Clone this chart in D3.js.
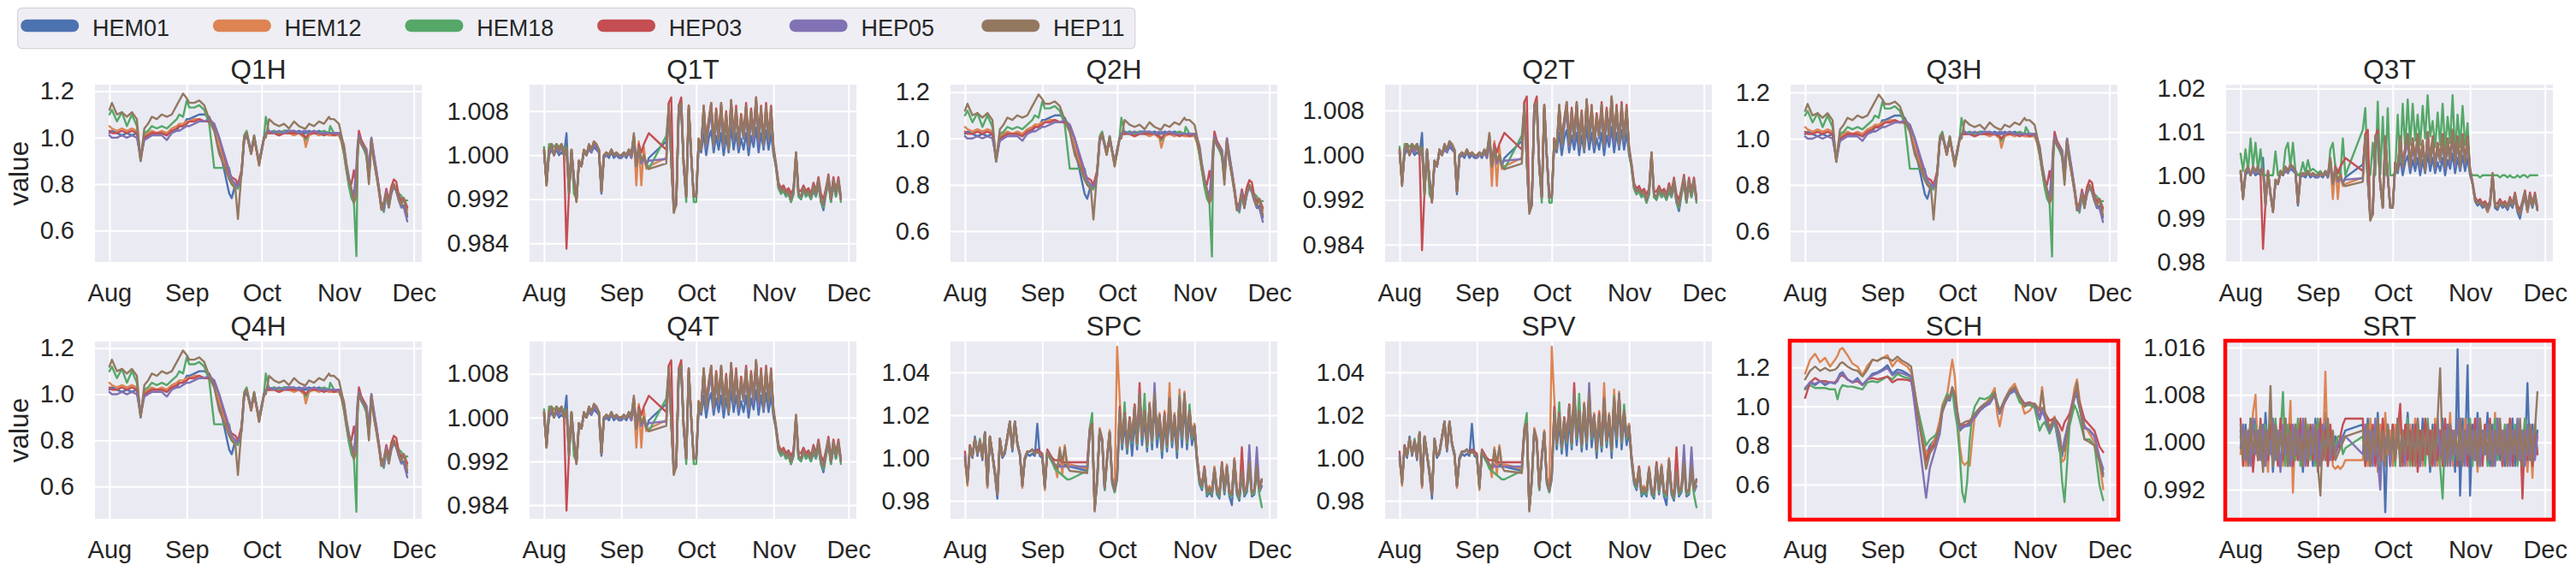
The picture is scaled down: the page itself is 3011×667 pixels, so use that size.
<!DOCTYPE html>
<html>
<head>
<meta charset="utf-8">
<script src="https://cdn.jsdelivr.net/npm/d3@7"></script>
<style>
  html, body { margin: 0; padding: 0; background: #ffffff; }
  svg { display: block; font-family: "Liberation Sans", Arial, sans-serif; }
</style>
</head>
<body>
<div id="chart"></div>
<script>
// Canvas size of the figure.
var W = 3011,
    H = 667;

// Series (sensor) names, in plotting order, and month ticks.
var seriesNames = ["HEM01", "HEM12", "HEM18", "HEP03", "HEP05", "HEP11"];
var monthTicks = ["2021-08-01", "2021-09-01", "2021-10-01", "2021-11-01", "2021-12-01"];
var monthLabels = ["Aug", "Sep", "Oct", "Nov", "Dec"];

// Y tick values for the different panel types.
var hTicks = [0.6, 0.8, 1.0, 1.2];
var tTicks = [0.984, 0.992, 1.000, 1.008];
var q3tTicks = [0.98, 0.99, 1.00, 1.01, 1.02];
var spTicks = [0.98, 1.00, 1.02, 1.04];
var srtTicks = [0.992, 1.000, 1.008, 1.016];

// Sample days, counted from Aug 1 (mid-September has no data).
var hDays = [0, 1, 3, 5, 7, 9, 11, 12.5, 14, 15.5,
    17, 19, 21, 23, 25, 27, 28, 29.5, 31, 32,
    34, 36, 38, 40, 42, 44, 46, 48, 49, 50.5,
    51.5, 53, 54, 55, 56.8, 58, 60, 61, 62, 62.7,
    64, 66, 68, 70, 72, 74, 76, 78, 78.7, 80,
    82, 84, 86, 88, 88.5, 90, 92, 93, 94, 95,
    96, 97, 98, 99, 99.5, 100, 101, 102, 103, 104,
    105, 106, 107, 108, 109, 110, 111, 112, 113, 114,
    115, 116, 117, 118, 119.4];
var fineDays = d3.range(0, 43).concat(d3.range(49, 120));
var schDays = [0, 2, 4, 6, 8, 10, 12, 13, 14, 15,
    17, 19, 21, 23, 25, 27, 29, 31, 33, 35,
    37, 39, 41, 42.5, 48.5, 50, 52, 54, 55, 57,
    58, 59, 60, 61, 62, 63, 64, 65, 66, 67,
    68, 70, 72, 74, 76, 77, 78, 80, 82, 84,
    86, 88, 90, 92, 94, 95, 96, 98, 100, 102,
    103, 104, 105, 106, 108, 109, 110, 112, 114, 116,
    118, 119.5];

// ---- Q*H panels (read from Q1H) ----
var hHEM01 = [1.02,1.03,1.02,1.01,1.02,1.01,1.02,0.90,1.00,1.01,
    1.02,1.02,1.02,1.01,1.03,1.03,1.05,1.05,1.08,1.08,
    1.09,1.10,1.10,1.09,1.04,0.96,0.86,0.76,0.74,0.80,
    0.79,0.85,0.99,1.01,0.94,1.00,0.89,0.94,1.00,1.02,
    1.02,1.03,1.02,1.03,1.03,1.02,1.03,1.02,1.02,1.03,
    1.02,1.03,1.02,1.02,1.02,1.02,1.02,0.99,0.94,0.87,
    0.80,0.76,0.74,0.76,0.94,1.00,0.97,0.95,0.93,0.83,
    0.98,0.91,0.84,0.77,0.70,0.70,0.76,0.70,0.76,0.79,
    0.77,0.73,0.70,0.71,0.66];
var hHEM12 = [1.05,1.04,1.03,1.04,1.03,1.04,1.03,0.91,1.01,1.02,
    1.03,1.02,1.03,1.02,1.04,1.05,1.06,1.06,1.07,1.07,
    1.08,1.08,1.07,1.07,1.03,0.97,0.90,0.83,0.81,0.80,
    0.79,0.86,1.00,1.02,0.93,1.00,0.88,0.94,1.00,1.02,
    1.02,1.02,1.01,1.02,1.02,1.01,1.02,1.00,0.96,1.01,
    1.02,1.01,1.02,1.01,1.01,1.01,1.01,0.98,0.93,0.86,
    0.80,0.77,0.73,0.77,0.95,1.01,0.98,0.96,0.93,0.83,
    0.99,0.90,0.84,0.77,0.69,0.71,0.77,0.72,0.78,0.80,
    0.78,0.74,0.72,0.73,0.69];
var hHEM18 = [1.10,1.12,1.07,1.11,1.05,1.10,1.05,0.91,1.02,1.03,
    1.05,1.04,1.05,1.04,1.06,1.08,1.10,1.09,1.16,1.13,
    1.13,1.14,1.12,1.06,0.87,0.87,0.87,0.87,0.80,0.79,
    0.78,0.86,1.01,1.03,0.94,1.01,0.89,0.94,1.01,1.09,
    1.02,1.03,1.02,1.03,1.02,1.03,1.02,1.01,0.99,1.02,
    1.03,1.02,1.03,1.02,1.05,1.02,1.02,0.99,0.93,0.86,
    0.79,0.74,0.72,0.49,0.92,1.01,0.98,0.95,0.92,0.82,
    0.99,0.91,0.85,0.78,0.70,0.68,0.75,0.71,0.77,0.80,
    0.77,0.76,0.75,0.73,0.73];
var hHEP03 = [1.03,1.02,1.02,1.03,1.02,1.03,1.02,0.91,1.00,1.01,
    1.02,1.02,1.02,1.01,1.03,1.04,1.05,1.05,1.06,1.07,
    1.07,1.08,1.07,1.07,1.06,1.00,0.92,0.85,0.83,0.82,
    0.80,0.86,1.00,1.02,0.93,1.00,0.89,0.95,1.00,1.02,
    1.02,1.02,1.01,1.02,1.02,1.02,1.02,1.01,1.00,1.02,
    1.02,1.02,1.01,1.02,1.02,1.01,1.02,1.00,0.95,0.88,
    0.82,0.80,0.86,0.78,0.96,1.03,0.99,0.97,0.95,0.84,
    1.00,0.92,0.86,0.79,0.71,0.72,0.78,0.73,0.79,0.82,
    0.81,0.75,0.73,0.74,0.70];
var hHEP05 = [1.01,1.00,1.00,1.01,1.00,1.01,1.00,0.92,0.99,1.00,
    1.01,1.01,1.01,0.99,1.02,1.03,1.03,1.04,1.05,1.05,
    1.06,1.07,1.07,1.08,1.06,1.00,0.93,0.86,0.82,0.80,
    0.79,0.84,0.99,1.01,0.95,1.00,0.90,0.95,1.00,1.02,
    1.03,1.02,1.03,1.02,1.03,1.03,1.02,1.03,1.03,1.02,
    1.03,1.02,1.02,1.02,1.02,1.02,1.02,1.00,0.97,0.89,
    0.83,0.78,0.75,0.88,0.97,1.01,0.98,0.96,0.95,0.86,
    1.00,0.93,0.86,0.78,0.70,0.69,0.77,0.71,0.76,0.79,
    0.77,0.74,0.70,0.70,0.64];
var hHEP11 = [1.12,1.15,1.10,1.11,1.09,1.11,1.08,0.90,1.04,1.06,
    1.09,1.08,1.10,1.09,1.10,1.14,1.16,1.19,1.17,1.15,
    1.15,1.16,1.14,1.08,1.03,0.93,0.88,0.82,0.80,0.78,
    0.65,0.86,1.00,1.02,0.93,1.01,0.88,0.95,1.00,1.00,
    1.08,1.06,1.05,1.06,1.04,1.07,1.05,1.04,1.04,1.06,
    1.05,1.07,1.06,1.09,1.08,1.08,1.06,1.01,0.96,0.88,
    0.82,0.78,0.72,0.75,0.95,1.00,0.97,0.96,0.93,0.80,
    0.99,0.90,0.84,0.78,0.69,0.72,0.76,0.70,0.77,0.80,
    0.77,0.73,0.71,0.74,0.67];

// ---- Q*T panels (read from Q1T) ----
var tHEM01 = [1.0005,0.995,1.000,1.001,1.000,1.001,1.000,1.0005,1.000,1.004,
    0.9935,1.0005,0.996,0.992,0.9985,0.998,1.0005,1.000,1.001,1.0005,
    1.0015,1.001,1.0005,0.993,0.9995,1.000,0.9995,1.0005,0.9995,1.000,
    0.9995,0.9995,1.000,0.9995,1.0005,0.9995,1.002,0.9975,1.000,0.9985,
    0.9995,0.998,0.9995,
    1.0025,1.008,0.999,0.990,0.9915,1.0075,1.008,0.998,0.993,1.0075,
    0.9995,0.993,0.9925,1.0015,1.0005,1.004,1.000,1.003,1.0045,1.0005,
    1.0035,1.001,1.004,1.000,1.0035,1.0005,1.005,1.001,1.004,1.0005,
    1.003,1.001,1.004,1.000,1.0035,1.0015,1.005,1.0005,1.004,1.001,
    1.0045,1.001,1.004,1.000,0.998,0.994,0.993,0.9935,0.9925,0.993,
    0.9915,0.993,0.9995,0.9925,0.992,0.9935,0.9925,0.993,0.992,0.9935,
    0.9925,0.9945,0.9915,0.990,0.993,0.995,0.9915,0.9945,0.9925,0.995,0.992];
var tHEM12 = [1.001,0.995,1.001,1.0015,1.000,1.0015,1.0005,1.0015,1.000,1.001,
    0.993,1.001,0.9955,0.992,0.999,0.998,1.001,1.000,1.0015,1.001,
    1.002,1.0015,1.001,0.9935,1.000,1.0005,1.000,1.001,1.000,1.0005,
    1.000,1.000,1.000,1.000,1.0005,0.9995,1.003,0.9945,1.0025,0.9945,
    1.0015,0.9975,0.998,
    0.9995,1.0095,0.999,0.990,0.991,1.009,1.0095,0.998,0.9925,1.009,
    1.000,0.9925,0.9925,1.003,1.0015,1.0085,1.0025,1.006,1.009,1.0025,
    1.008,1.003,1.009,1.0025,1.0075,1.0015,1.0095,1.0035,1.008,1.0025,
    1.007,1.0035,1.0085,1.0025,1.008,1.0035,1.010,1.003,1.008,1.0025,
    1.0085,1.003,1.008,1.001,0.998,0.9945,0.9935,0.994,0.993,0.9935,
    0.9915,0.9935,1.000,0.993,0.9925,0.994,0.993,0.9935,0.9925,0.9945,
    0.993,0.995,0.992,0.991,0.9935,0.9955,0.9915,0.995,0.993,0.995,0.992];
var tHEM18 = [1.0015,0.995,1.002,1.002,1.0015,1.002,1.0015,1.002,1.001,1.0015,
    0.993,1.001,0.993,0.992,0.999,0.998,1.001,1.000,1.0015,1.001,
    1.002,1.0015,1.001,0.9935,1.000,1.0005,1.000,1.001,1.000,1.0005,
    1.000,1.000,1.0005,1.000,1.001,1.0005,1.0035,0.998,1.0015,0.999,
    1.000,0.9985,0.9975,
    1.0035,1.0085,0.999,0.9905,0.9915,1.0085,1.009,0.998,0.9915,1.0085,
    1.000,0.9915,0.9915,1.0025,1.001,1.0085,1.0015,1.0055,1.009,1.0015,
    1.0075,1.0025,1.009,1.0015,1.007,1.001,1.0095,1.0025,1.008,1.0015,
    1.0065,1.003,1.0085,1.0015,1.0075,1.003,1.010,1.0025,1.008,1.0015,
    1.0085,1.0025,1.008,1.0005,0.9975,0.994,0.993,0.9935,0.9925,0.993,
    0.9915,0.993,1.000,0.9925,0.992,0.9935,0.9925,0.993,0.992,0.994,
    0.9925,0.995,0.9915,0.9905,0.993,0.9955,0.9915,0.995,0.9925,0.995,0.9915];
var tHEP03 = [1.001,0.9945,1.001,1.002,1.000,1.002,1.001,1.002,1.000,0.983,
    0.9935,1.001,0.9955,0.9915,0.999,0.998,1.001,1.000,1.002,1.001,
    1.0025,1.002,1.001,0.9935,1.000,1.0005,1.000,1.001,1.000,1.0005,
    1.000,1.000,1.0005,1.000,1.001,1.000,1.0035,0.9985,1.002,1.0005,
    1.002,1.003,1.004,
    1.001,1.0095,1.0105,0.990,0.991,1.009,1.0105,0.998,0.9925,1.009,
    1.000,0.9925,0.9925,1.003,1.0015,1.009,1.0025,1.0065,1.0095,1.0025,
    1.0085,1.0035,1.0095,1.0025,1.008,1.0015,1.010,1.0035,1.009,1.0025,
    1.0075,1.004,1.0095,1.0025,1.0085,1.004,1.0105,1.0035,1.009,1.0025,
    1.0095,1.0035,1.009,1.0015,0.9985,0.995,0.994,0.9945,0.9935,0.994,
    0.993,0.994,1.0005,0.9935,0.9935,0.9945,0.9935,0.994,0.993,0.995,
    0.9935,0.996,0.993,0.992,0.994,0.9965,0.9925,0.996,0.9935,0.996,0.9925];
var tHEP05 = [1.0005,0.995,1.0005,1.0015,1.000,1.0015,1.0005,1.0015,1.000,1.001,
    0.9935,1.0005,0.9955,0.992,0.9985,0.998,1.0005,1.000,1.0015,1.0005,
    1.002,1.0015,1.0005,0.9935,1.000,1.000,1.000,1.0005,1.000,1.000,
    1.000,0.9995,1.0005,1.000,1.0005,0.9995,1.0025,0.998,1.001,0.9985,
    0.9995,0.9985,0.999,
    0.9993,1.0085,0.999,0.9905,0.9915,1.0085,1.009,0.998,0.9925,1.0085,
    1.000,0.9925,0.9925,1.0025,1.001,1.007,1.0015,1.005,1.0075,1.0015,
    1.0065,1.0025,1.008,1.0015,1.0065,1.001,1.0085,1.0025,1.0075,1.0015,
    1.006,1.003,1.0075,1.0015,1.007,1.0025,1.009,1.002,1.0075,1.0015,
    1.008,1.0025,1.0075,1.001,0.998,0.9945,0.9935,0.994,0.993,0.9935,
    0.992,0.9935,1.000,0.993,0.9925,0.994,0.993,0.9935,0.9925,0.9945,
    0.993,0.9955,0.992,0.991,0.9935,0.996,0.992,0.9955,0.993,0.9955,0.992];
var tHEP11 = [1.001,0.9945,1.001,1.002,1.000,1.002,1.001,1.002,1.000,1.0015,
    0.993,1.001,0.9955,0.9915,0.999,0.998,1.001,1.000,1.002,1.001,
    1.0025,1.002,1.001,0.9935,1.000,1.0005,1.000,1.001,1.000,1.0005,
    1.000,1.000,1.0005,1.000,1.001,1.000,1.004,0.998,1.0015,0.999,
    1.000,0.998,0.9975,
    0.9985,1.009,0.999,0.9895,0.991,1.009,1.0095,0.998,0.9925,1.009,
    1.000,0.9925,0.9925,1.003,1.001,1.009,1.002,1.006,1.0095,1.002,
    1.008,1.003,1.0095,1.002,1.0075,1.001,1.010,1.003,1.0085,1.002,
    1.007,1.0035,1.009,1.002,1.008,1.0035,1.0105,1.003,1.0085,1.002,
    1.009,1.003,1.0085,1.001,0.998,0.9945,0.9935,0.994,0.993,0.9935,
    0.992,0.9935,1.0005,0.993,0.9925,0.994,0.993,0.9935,0.9925,0.9945,
    0.993,0.9955,0.992,0.991,0.9935,0.996,0.992,0.9955,0.993,0.9955,0.992];

// Q3T differs from the other T panels only in HEM18.
var q3tHEM18 = [1.005,1.001,1.006,1.001,1.0085,1.002,1.0075,1.001,1.006,1.000,
    1.000,1.000,1.000,1.000,1.0055,1.000,1.001,1.0005,1.006,1.0075,
    1.002,1.0075,1.001,1.000,1.0005,1.003,1.0005,1.0035,1.001,1.0015,
    1.001,1.0005,1.001,1.000,1.0005,0.9995,1.006,1.0075,1.002,1.001,
    1.000,1.0085,1.000,
    1.0105,1.0155,1.000,1.000,1.0075,1.000,1.017,1.000,1.0135,1.000,
    1.0155,1.000,1.000,1.0005,1.014,1.003,1.0165,1.006,1.0175,1.007,
    1.0165,1.008,1.014,1.007,1.016,1.0085,1.0185,1.009,1.0125,1.0065,
    1.0145,1.007,1.0165,1.006,1.0135,1.0075,1.0185,1.005,1.014,1.0065,
    1.016,1.007,1.012,1.0005,1.000,1.000,1.000,0.9995,1.000,1.000,
    1.000,1.000,1.000,1.000,1.000,0.9995,1.000,1.000,0.9995,1.000,
    0.9995,0.9995,1.000,0.9995,1.000,1.000,0.9995,1.000,1.000,1.000,1.000];

// ---- SPC / SPV panels (read from SPC) ----
var spHEM01 = [0.999,0.990,1.004,1.000,1.010,1.001,1.007,0.999,1.011,0.988,
    1.009,1.001,0.992,0.981,1.008,1.000,1.002,1.009,1.016,1.003,
    1.016,1.006,1.001,0.988,0.999,1.002,1.001,1.002,1.001,1.016,
    1.001,1.000,0.987,1.002,1.000,0.998,0.996,0.996,0.997,0.996,
    0.997,0.996,0.996,
    0.994,1.011,1.014,0.977,0.989,1.012,1.007,0.985,0.999,1.011,
    0.988,0.984,0.990,1.018,1.004,1.016,1.002,1.015,1.001,1.018,
    1.004,1.025,1.006,1.018,1.003,1.020,1.004,1.026,1.005,1.016,
    1.000,1.016,1.003,1.022,1.005,1.016,1.000,1.022,1.005,1.025,
    1.004,1.018,1.006,1.012,0.998,0.988,0.985,0.993,0.982,0.984,
    0.982,0.993,0.983,0.981,0.995,0.983,0.994,0.982,0.978,0.997,
    0.983,0.980,0.992,0.982,0.984,0.996,0.982,0.983,0.994,0.984,0.987];
var spHEM12 = [1.000,0.987,1.005,1.001,1.008,1.002,1.008,1.000,1.011,0.986,
    1.010,1.002,0.994,0.984,1.008,1.001,1.003,1.009,1.016,1.004,
    1.016,1.007,1.002,0.986,1.000,1.003,1.003,1.004,1.002,1.003,
    1.002,1.001,0.985,1.003,1.001,0.999,0.997,0.991,1.005,0.992,
    1.006,0.997,0.997,
    0.995,1.013,1.016,0.976,0.990,1.014,1.009,0.987,1.001,1.013,
    0.991,0.986,1.052,1.028,1.008,1.021,1.006,1.019,1.009,1.025,
    1.008,1.029,1.011,1.023,1.007,1.026,1.009,1.028,1.011,1.021,
    1.005,1.022,1.007,1.035,1.009,1.021,1.005,1.032,1.011,1.031,
    1.009,1.023,1.011,1.016,1.001,0.991,0.988,0.996,0.985,0.987,
    0.985,0.996,0.986,0.984,0.998,0.986,0.997,0.985,0.984,1.000,
    0.986,0.983,0.995,0.985,0.987,0.999,0.983,0.984,0.997,0.985,0.989];
var spHEM18 = [1.001,0.989,1.006,1.001,1.009,1.002,1.009,1.001,1.012,0.988,
    1.010,1.002,0.993,0.984,1.009,1.001,1.003,1.010,1.017,1.004,
    1.017,1.007,1.002,0.987,1.000,1.003,1.003,1.004,1.002,1.003,
    1.002,1.001,0.986,1.002,1.000,0.998,0.995,0.994,0.993,0.992,
    0.991,0.990,0.990,
    0.994,1.014,1.021,0.977,0.988,1.013,1.008,0.985,1.000,1.012,
    0.989,0.984,0.991,1.021,1.006,1.026,1.004,1.017,1.007,1.022,
    1.006,1.028,1.009,1.030,1.005,1.024,1.007,1.029,1.009,1.019,
    1.003,1.019,1.005,1.027,1.007,1.019,1.003,1.029,1.009,1.028,
    1.007,1.025,1.009,1.014,0.999,0.989,0.986,0.994,0.983,0.985,
    0.983,0.994,0.984,0.982,0.996,0.984,0.995,0.983,0.982,0.998,
    0.984,0.981,0.993,0.983,0.985,0.997,0.983,0.984,0.995,0.983,0.977];
var spHEP03 = [1.003,0.989,1.006,1.001,1.009,1.002,1.008,1.000,1.012,0.987,
    1.010,1.002,0.993,0.983,1.009,1.001,1.003,1.010,1.017,1.004,
    1.017,1.007,1.002,0.987,1.000,1.003,1.003,1.004,1.002,1.004,
    1.003,1.002,0.987,1.004,1.002,1.000,0.999,0.999,0.999,0.998,
    0.998,0.998,0.998,
    0.998,1.013,1.016,0.976,0.991,1.013,1.009,0.986,1.001,1.012,
    0.990,0.985,0.993,1.024,1.007,1.021,1.005,1.019,1.008,1.025,
    1.007,1.035,1.010,1.022,1.006,1.025,1.008,1.029,1.010,1.020,
    1.004,1.021,1.006,1.027,1.008,1.020,1.004,1.027,1.010,1.029,
    1.008,1.022,1.010,1.015,1.000,0.990,0.987,0.996,0.984,0.986,
    0.984,0.995,0.985,0.983,0.998,0.985,0.996,0.984,0.983,0.999,
    0.985,0.982,1.005,0.984,0.986,0.998,0.984,0.985,0.996,0.986,0.990];
var spHEP05 = [1.001,0.989,1.005,1.001,1.009,1.002,1.008,1.000,1.012,0.987,
    1.010,1.002,0.993,0.983,1.009,1.001,1.003,1.010,1.017,1.004,
    1.017,1.007,1.002,0.987,1.000,1.003,1.003,1.004,1.002,1.003,
    1.002,1.001,0.986,1.003,1.001,0.999,0.997,0.996,0.996,0.996,
    0.996,0.996,0.996,
    0.996,1.012,1.015,0.976,0.990,1.013,1.008,0.986,1.000,1.012,
    0.990,0.985,0.992,1.022,1.007,1.020,1.005,1.018,1.008,1.024,
    1.007,1.030,1.010,1.022,1.006,1.025,1.008,1.035,1.010,1.020,
    1.004,1.020,1.006,1.028,1.008,1.020,1.004,1.028,1.010,1.030,
    1.008,1.022,1.010,1.015,1.000,0.990,0.987,0.995,0.984,0.986,
    0.984,0.995,0.985,0.983,0.997,0.985,0.996,0.984,0.983,0.999,
    0.985,0.982,0.994,0.984,0.986,1.006,0.984,0.985,1.005,0.986,0.990];
var spHEP11 = [1.000,0.988,1.005,1.001,1.009,1.002,1.008,1.000,1.012,0.987,
    1.010,1.002,0.993,0.983,1.009,1.001,1.003,1.010,1.017,1.004,
    1.017,1.007,1.002,0.987,1.000,1.003,1.003,1.004,1.002,1.003,
    1.002,1.001,0.986,1.003,1.001,0.999,0.997,0.995,1.004,0.998,
    1.005,0.996,0.994,
    0.993,1.012,1.015,0.975,0.990,1.013,1.008,0.986,1.000,1.012,
    0.990,0.985,0.992,1.022,1.007,1.020,1.005,1.018,1.008,1.024,
    1.007,1.030,1.010,1.022,1.006,1.025,1.008,1.030,1.010,1.020,
    1.004,1.020,1.006,1.028,1.008,1.020,1.004,1.028,1.010,1.030,
    1.008,1.022,1.010,1.015,1.000,0.990,0.987,0.995,0.984,0.986,
    0.984,0.995,0.985,0.983,0.997,0.985,0.996,0.984,0.983,0.999,
    0.985,0.982,0.994,0.984,0.986,0.998,0.984,0.985,0.996,0.986,0.990];

// ---- SCH panel ----
var schHEM01 = [1.088,1.124,1.11,1.13,1.11,1.124,1.117,1.14,1.168,1.176,
    1.139,1.124,1.146,1.11,1.139,1.168,1.176,1.19,1.212,1.168,
    1.19,1.183,1.168,1.154,0.75,0.80,0.83,0.90,0.978,1.037,
    1.03,1.088,1.051,0.949,0.876,0.89,0.898,0.90,0.905,0.925,
    0.941,0.978,1.00,1.015,1.059,1.007,0.963,1.022,1.066,1.08,
    1.044,1.007,1.015,1.007,0.934,0.978,0.949,0.868,0.927,0.773,
    0.744,0.832,0.88,0.934,1.051,1.051,0.993,0.89,0.876,0.846,
    0.73,0.656];
var schHEM12 = [1.168,1.24,1.27,1.227,1.25,1.205,1.24,1.26,1.293,1.30,
    1.263,1.22,1.205,1.16,1.21,1.24,1.234,1.249,1.263,1.205,
    1.24,1.22,1.205,1.176,0.75,0.78,0.83,0.93,1.007,1.066,
    1.154,1.24,1.154,0.978,0.80,0.715,0.70,0.715,0.697,0.832,
    0.949,0.985,1.007,1.044,1.095,0.963,0.898,1.037,1.088,1.117,
    1.051,0.963,0.978,1.015,0.985,1.10,0.978,0.89,0.949,0.80,
    0.715,0.73,0.82,0.92,1.095,1.139,1.037,0.905,0.861,0.817,
    0.715,0.576];
var schHEM18 = [1.088,1.11,1.095,1.095,1.095,1.088,1.088,1.037,1.088,1.11,
    1.102,1.102,1.095,1.088,1.124,1.13,1.124,1.139,1.154,1.139,
    1.168,1.154,1.146,1.139,0.80,0.83,0.85,0.88,0.993,1.066,
    1.037,1.088,0.978,0.90,0.75,0.56,0.51,0.62,0.83,0.95,
    1.00,1.044,1.037,1.051,1.073,1.022,0.978,1.03,1.073,1.088,
    1.022,1.007,1.007,0.993,0.876,0.905,0.92,0.861,0.92,0.80,
    0.62,0.51,0.70,0.90,1.007,0.978,0.934,0.832,0.832,0.80,
    0.598,0.52];
var schHEP03 = [1.044,1.124,1.146,1.13,1.13,1.124,1.124,1.14,1.154,1.16,
    1.139,1.124,1.13,1.11,1.139,1.146,1.139,1.146,1.154,1.124,
    1.139,1.139,1.136,1.13,0.72,0.78,0.81,0.90,0.978,1.044,
    1.05,1.088,1.06,0.963,0.898,0.905,0.905,0.91,0.92,0.935,
    0.949,0.978,1.007,1.022,1.066,1.007,0.971,1.022,1.073,1.088,
    1.051,1.015,1.022,1.007,0.949,0.993,0.971,0.927,0.941,0.905,
    0.876,0.92,0.94,0.963,1.066,1.095,1.022,0.934,0.905,0.876,
    0.795,0.766];
var schHEP05 = [1.095,1.124,1.117,1.13,1.117,1.124,1.12,1.13,1.16,1.17,
    1.139,1.124,1.139,1.11,1.139,1.16,1.17,1.183,1.198,1.16,
    1.176,1.17,1.16,1.15,0.532,0.685,0.773,0.861,0.97,1.04,
    1.04,1.09,1.055,0.955,0.885,0.895,0.9,0.905,0.91,0.93,
    0.945,0.98,1.00,1.02,1.062,1.007,0.968,1.025,1.07,1.085,
    1.048,1.01,1.018,1.01,0.94,0.985,0.955,0.875,0.932,0.82,
    0.77,0.82,0.89,0.94,1.06,1.07,1.0,0.895,0.88,0.85,
    0.74,0.68];
var schHEP11 = [1.139,1.183,1.205,1.183,1.198,1.183,1.19,1.20,1.22,1.227,
    1.205,1.19,1.183,1.154,1.19,1.24,1.234,1.249,1.249,1.234,
    1.256,1.234,1.22,1.205,0.68,0.76,0.80,0.90,0.978,1.05,
    1.044,1.10,1.066,0.978,0.905,0.912,0.92,0.925,0.927,0.945,
    0.963,0.993,1.015,1.03,1.073,1.015,0.978,1.037,1.08,1.10,
    1.051,1.00,1.015,1.015,0.978,1.08,0.978,0.89,0.941,0.861,
    0.773,0.773,0.85,0.934,1.044,1.124,1.007,0.832,0.817,0.80,
    0.715,0.642];

// ---- SRT panel ----
var srtHEM01 = [1.002,0.998,1.003,0.997,1.001,0.996,1.004,0.999,1.003,0.997,
    1.005,0.998,1.002,0.995,1.003,0.999,1.001,0.997,1.004,0.996,
    1.002,0.998,1.003,0.997,1.001,0.995,1.003,0.998,1.002,0.996,
    1.004,0.997,1.002,0.999,1.005,0.996,1.002,0.998,1.001,1.000,
    0.999,1.001,1.002,
    1.003,0.997,1.004,0.996,1.002,0.998,1.005,0.995,1.003,0.9882,
    1.002,0.997,1.003,0.998,1.004,0.996,1.002,0.999,1.005,0.997,
    1.003,0.998,1.002,0.996,1.004,0.997,1.001,0.995,1.003,0.998,
    1.002,0.997,1.004,0.996,1.003,0.999,1.002,0.995,1.0157,0.991,
    1.004,0.998,1.013,0.991,1.003,0.997,1.005,0.996,1.002,0.998,
    1.005,0.996,1.003,0.998,1.004,0.997,1.002,0.996,1.003,0.999,
    1.004,0.996,1.003,0.997,1.002,0.998,1.010,0.997,1.003,0.998,1.002];
var srtHEM12 = [0.998,1.003,0.996,1.002,0.999,1.005,1.008,0.997,1.003,0.996,
    1.002,0.995,1.004,0.998,1.001,0.997,1.003,0.996,1.002,0.999,
    1.007,0.9915,1.003,0.997,1.002,0.996,1.004,0.998,1.001,0.997,
    1.003,0.996,1.002,0.998,1.0119,0.997,1.002,0.996,0.9955,0.996,
    0.9955,0.996,0.997,
    0.997,1.003,0.996,1.004,0.998,1.002,0.995,1.003,0.997,1.005,
    0.998,1.002,0.996,1.003,0.999,1.004,0.997,1.002,0.996,1.003,
    0.998,1.004,0.997,1.001,0.996,1.003,0.998,1.002,0.997,1.004,
    0.996,1.002,0.999,1.003,0.997,1.005,0.996,1.002,0.998,1.003,
    0.997,1.004,0.996,1.002,0.998,1.003,0.995,1.004,0.997,1.002,
    0.998,1.003,0.996,1.005,0.997,1.002,0.999,1.003,0.996,1.004,
    0.997,1.002,0.998,1.003,0.996,1.004,0.995,1.002,0.994,1.003,0.998];
var srtHEM18 = [1.001,0.997,1.002,0.998,1.004,0.996,1.003,0.999,1.002,0.997,
    1.003,0.998,1.002,0.996,1.004,0.997,1.001,1.0085,0.996,1.003,
    0.998,1.002,0.997,1.004,0.996,1.002,0.999,1.003,0.997,1.002,
    0.996,1.004,0.998,1.002,0.997,1.003,0.998,1.001,0.999,1.001,
    1.001,0.998,0.999,
    1.001,0.996,1.003,0.998,1.002,0.997,1.004,0.996,1.002,0.998,
    1.003,0.997,1.001,0.996,1.003,0.998,1.002,0.997,1.004,0.996,
    1.002,0.998,1.003,0.997,1.001,0.996,1.004,0.998,1.002,0.997,
    1.003,0.996,0.9905,1.002,0.998,1.003,0.997,1.001,0.996,1.003,
    0.998,1.002,0.997,1.004,0.996,1.003,0.998,1.002,0.997,1.003,
    0.996,1.002,0.998,1.004,0.997,1.002,0.996,1.003,0.998,1.002,
    0.997,1.003,0.996,1.002,0.998,1.004,0.997,1.002,0.996,1.003,0.998];
var srtHEP03 = [1.004,0.996,1.002,0.998,1.003,0.995,1.001,0.997,1.004,0.996,
    1.002,0.997,1.003,0.998,1.001,0.996,1.004,0.997,1.002,0.998,
    1.003,0.996,1.002,0.997,1.004,0.998,1.001,0.996,1.003,0.997,
    1.002,0.995,1.004,0.997,1.002,0.996,1.003,0.997,0.998,0.999,
    1.001,1.003,1.004,
    1.004,0.996,1.002,0.997,1.003,0.996,1.001,0.997,1.004,0.998,
    1.002,0.996,1.003,0.997,1.002,1.0065,0.996,1.003,0.997,1.002,
    0.996,1.003,0.995,1.002,0.997,1.004,0.998,1.002,0.996,1.003,
    0.997,1.002,0.996,1.004,0.997,1.003,0.998,1.002,0.996,1.004,
    0.997,1.002,0.996,1.003,0.998,1.004,0.997,1.002,0.996,1.003,
    0.997,1.004,0.996,1.002,0.998,1.003,0.996,1.002,0.997,1.004,
    0.996,1.002,0.997,1.003,0.9905,1.002,0.997,1.003,0.996,1.002,0.998];
var srtHEP05 = [0.999,1.003,0.997,1.002,0.996,1.004,0.998,1.002,0.997,1.003,
    0.996,1.002,0.998,1.004,0.997,1.002,0.995,1.003,0.998,1.001,
    0.996,1.003,0.998,1.002,0.997,1.004,0.996,1.002,0.998,1.003,
    0.997,1.002,0.996,1.003,0.998,1.002,0.997,1.001,0.998,1.000,
    1.000,1.001,1.001,
    0.998,1.003,0.997,1.002,0.996,1.004,0.997,0.992,1.002,0.998,
    1.003,0.996,1.002,0.998,1.004,0.997,1.002,0.996,1.003,0.998,
    1.002,0.997,1.004,0.996,1.002,0.998,1.003,0.997,1.002,0.996,
    1.004,0.998,1.002,0.997,1.003,0.996,1.002,0.998,1.004,0.997,
    1.002,0.996,1.003,0.998,1.002,0.997,1.004,0.996,1.002,0.998,
    1.003,0.997,1.002,0.996,1.004,0.998,1.002,0.997,1.003,0.996,
    1.002,0.998,1.004,0.997,1.002,0.996,1.003,0.998,1.002,0.997,1.001];
var srtHEP11 = [1.003,0.997,1.002,0.996,1.004,0.998,1.002,0.997,1.003,0.995,
    1.002,0.998,1.0095,0.996,1.003,0.997,1.002,0.998,1.004,0.996,
    1.002,0.997,1.003,0.998,1.001,0.996,1.004,0.997,1.002,0.998,
    1.003,0.996,0.991,1.002,0.997,1.004,0.998,1.002,0.997,0.998,
    0.999,1.000,1.001,
    1.002,0.997,1.003,0.996,1.002,0.998,1.004,0.997,1.002,0.996,
    1.003,0.998,1.002,0.997,1.004,0.996,1.002,0.998,1.003,0.997,
    1.002,0.996,1.004,0.997,1.002,0.998,1.003,0.996,1.002,0.997,
    1.004,1.0125,0.997,1.002,0.996,1.003,0.998,1.002,0.997,1.004,
    0.996,1.002,0.998,1.003,0.997,1.002,0.996,1.004,0.998,1.002,
    0.997,1.003,0.996,1.002,0.998,1.004,0.997,1.002,0.996,1.003,
    0.998,1.002,0.997,1.004,0.996,1.002,0.998,1.003,0.997,1.002,1.0085];

// Groups of series per panel type, in the order HEM01 .. HEP11.
var hSeries = [hHEM01, hHEM12, hHEM18, hHEP03, hHEP05, hHEP11],
    tSeries = [tHEM01, tHEM12, tHEM18, tHEP03, tHEP05, tHEP11],
    q3tSeries = [tHEM01, tHEM12, q3tHEM18, tHEP03, tHEP05, tHEP11],
    spSeries = [spHEM01, spHEM12, spHEM18, spHEP03, spHEP05, spHEP11],
    schSeries = [schHEM01, schHEM12, schHEM18, schHEP03, schHEP05, schHEP11],
    srtSeries = [srtHEM01, srtHEM12, srtHEM18, srtHEP03, srtHEP05, srtHEP11];

// Seaborn "deep" palette.
var colors = ["#4C72B0", "#DD8452", "#55A868", "#C44E52", "#8172B3", "#937860"];

// Panel grid (pixel layout of the axes areas).
var colLeft = [111, 619, 1111, 1619, 2093, 2602],
    rowTop = [99, 399],
    plotW = 382,
    plotH = 207,
    xDomainDays = [-5.8, 125.2];

var panels = [
    {title: "Q1H", row: 0, col: 0, days: hDays, series: hSeries, yDomain: [0.465, 1.228], ticks: hTicks, fmt: ".1f"},
    {title: "Q1T", row: 0, col: 1, days: fineDays, series: tSeries, yDomain: [0.9806, 1.0128], ticks: tTicks, fmt: ".3f"},
    {title: "Q2H", row: 0, col: 2, days: hDays, series: hSeries, yDomain: [0.467, 1.232], ticks: hTicks, fmt: ".1f"},
    {title: "Q2T", row: 0, col: 3, days: fineDays, series: tSeries, yDomain: [0.9809, 1.0126], ticks: tTicks, fmt: ".3f"},
    {title: "Q3H", row: 0, col: 4, days: hDays, series: hSeries, yDomain: [0.467, 1.233], ticks: hTicks, fmt: ".1f"},
    {title: "Q3T", row: 0, col: 5, days: fineDays, series: q3tSeries, yDomain: [0.98, 1.0209], ticks: q3tTicks, fmt: ".2f"},
    {title: "Q4H", row: 1, col: 0, days: hDays, series: hSeries, yDomain: [0.46, 1.2286], ticks: hTicks, fmt: ".1f"},
    {title: "Q4T", row: 1, col: 1, days: fineDays, series: tSeries, yDomain: [0.9815, 1.0139], ticks: tTicks, fmt: ".3f"},
    {title: "SPC", row: 1, col: 2, days: fineDays, series: spSeries, yDomain: [0.9716, 1.0544], ticks: spTicks, fmt: ".2f"},
    {title: "SPV", row: 1, col: 3, days: fineDays, series: spSeries, yDomain: [0.9716, 1.0544], ticks: spTicks, fmt: ".2f"},
    {title: "SCH", row: 1, col: 4, days: schDays, series: schSeries, yDomain: [0.4245, 1.333], ticks: hTicks, fmt: ".1f", box: true},
    {title: "SRT", row: 1, col: 5, days: fineDays, series: srtSeries, yDomain: [0.9871, 1.0170], ticks: srtTicks, fmt: ".3f", box: true}
];

var startMs = Date.UTC(2021, 7, 1);
function dayToDate(d) { return new Date(startMs + d * 864e5); }
var monthDates = monthTicks.map(function (s) { return new Date(s + "T00:00:00Z"); });

var svg = d3.select("#chart")
    .append("svg")
    .attr("width", W)
    .attr("height", H);

svg.append("rect").attr("width", W).attr("height", H).attr("fill", "#ffffff");

panels.forEach(function (p) {
    var x0 = colLeft[p.col],
        y0 = rowTop[p.row];

    var x = d3.scaleUtc()
        .domain([dayToDate(xDomainDays[0]), dayToDate(xDomainDays[1])])
        .range([x0, x0 + plotW]);
    var y = d3.scaleLinear()
        .domain(p.yDomain)
        .range([y0 + plotH, y0]);

    var g = svg.append("g").attr("class", "panel");

    // Axes background.
    g.append("rect")
        .attr("x", x0).attr("y", y0)
        .attr("width", plotW).attr("height", plotH)
        .attr("fill", "#EAEAF2");

    // White grid lines, drawn with axes.
    var gx = g.append("g")
        .attr("transform", "translate(0," + (y0 + plotH) + ")")
        .call(d3.axisBottom(x).tickValues(monthDates).tickSize(-plotH).tickFormat(""));
    var gy = g.append("g")
        .attr("transform", "translate(" + x0 + ",0)")
        .call(d3.axisLeft(y).tickValues(p.ticks).tickSize(-plotW).tickFormat(""));
    [gx, gy].forEach(function (a) {
        a.select(".domain").remove();
        a.selectAll("line").attr("stroke", "#ffffff").attr("stroke-width", 2);
    });

    // Series lines.
    var line = d3.line()
        .x(function (d) { return x(d.t); })
        .y(function (d) { return y(d.v); });

    p.series.forEach(function (vals, i) {
        if (vals.length !== p.days.length) console.warn(p.title, seriesNames[i], vals.length, p.days.length);
        var pts = p.days.map(function (d, j) { return {t: dayToDate(d), v: vals[j]}; })
            .filter(function (d) { return d.v != null && !isNaN(d.v); });
        g.append("path")
            .datum(pts)
            .attr("d", line)
            .attr("fill", "none")
            .attr("stroke", colors[i])
            .attr("stroke-width", 2.4)
            .attr("stroke-linejoin", "round")
            .attr("stroke-linecap", "round");
    });

    // Tick labels.
    var lx = g.append("g")
        .attr("transform", "translate(0," + (y0 + plotH) + ")")
        .call(d3.axisBottom(x).tickValues(monthDates).tickSize(0).tickPadding(25)
            .tickFormat(function (d, i) { return monthLabels[i]; }));
    var ly = g.append("g")
        .attr("transform", "translate(" + x0 + ",0)")
        .call(d3.axisLeft(y).tickValues(p.ticks).tickSize(0).tickPadding(24)
            .tickFormat(d3.format(p.fmt)));
    [lx, ly].forEach(function (a) {
        a.select(".domain").remove();
        a.attr("font-family", null).attr("font-size", null);
        a.selectAll("text")
            .attr("fill", "#262626")
            .style("font-size", "29px")
            .style("font-family", "'Liberation Sans', Arial, sans-serif");
    });

    // Title.
    g.append("text")
        .attr("x", x0 + plotW / 2)
        .attr("y", y0 - 7.5)
        .attr("text-anchor", "middle")
        .attr("fill", "#262626")
        .style("font-size", "31.5px")
        .text(p.title);

    // Y label on the first column.
    if (p.col === 0) {
        var cy = y0 + plotH / 2;
        g.append("text")
            .attr("transform", "translate(33," + cy + ") rotate(-90)")
            .attr("text-anchor", "middle")
            .attr("fill", "#262626")
            .style("font-size", "31.5px")
            .text("value");
    }

    // Red frame around the highlighted panels.
    if (p.box) {
        g.append("rect")
            .attr("x", x0 - 1).attr("y", y0 - 1)
            .attr("width", plotW + 2).attr("height", plotH + 2)
            .attr("fill", "none")
            .attr("stroke", "#FF0000")
            .attr("stroke-width", 4.5);
    }
});

// Legend across the top.
var legend = svg.append("g").attr("class", "legend");
legend.append("rect")
    .attr("x", 20.7).attr("y", 9.3)
    .attr("width", 1306).attr("height", 47.4)
    .attr("rx", 5)
    .attr("fill", "#EEEEF4")
    .attr("stroke", "#D4D4D8")
    .attr("stroke-width", 1.2);

var pitch = 224.6;
seriesNames.forEach(function (name, i) {
    var lx0 = 31.5 + i * pitch;
    legend.append("line")
        .attr("x1", lx0).attr("x2", lx0 + 53.5)
        .attr("y1", 30).attr("y2", 30)
        .attr("stroke", colors[i])
        .attr("stroke-width", 14.5)
        .attr("stroke-linecap", "round");
    legend.append("text")
        .attr("x", 108 + i * pitch)
        .attr("y", 41.5)
        .attr("fill", "#262626")
        .style("font-size", "27px")
        .text(name);
});
</script>
</body>
</html>
